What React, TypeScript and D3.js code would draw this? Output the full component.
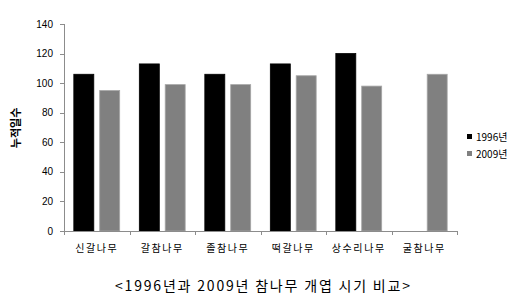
import React from "react";
import * as d3 from "d3";

const categories = ["신갈나무", "갈참나무", "졸참나무", "떡갈나무", "상수리나무", "굴참나무"];
const series1996: (number | null)[] = [106, 113, 106, 113, 120, null];
const series2009: (number | null)[] = [95, 99, 99, 105, 98, 106];
const seriesNames = ["1996년", "2009년"];
const yTicks = [0, 20, 40, 60, 80, 100, 120, 140];
const caption = "<1996년과 2009년 참나무 개엽 시기 비교>";
const yTitle = "누적일수";

export default function App() {
  const W = 520, H = 306;
  const left = 64, right = 457, top = 24, bottom = 231;
  const x = d3.scaleBand<string>().domain(categories).range([left, right]);
  const y = d3.scaleLinear().domain([0, 140]).range([bottom, top]);
  const bw = x.bandwidth();
  const barW = bw * 0.305;
  const gap = bw * 0.09;
  const off = (bw - 2 * barW - gap) / 2;
  const colors = ["#000000", "#808080"];
  const strokes = ["#000000", "#a6a6a6"];
  const axisColor = "#8c8c8c";
  const numFont = "'Liberation Sans', Arial, sans-serif";
  const krFont = "'Noto Sans CJK KR', sans-serif";
  const all = [series1996, series2009];
  return (
    <svg width={W} height={H} style={{ position: "absolute", left: 0, top: 0, background: "#fff" }}>
      {/* y axis */}
      <line x1={left + 0.5} x2={left + 0.5} y1={top} y2={bottom} stroke={axisColor} />
      {yTicks.map((t) => (
        <g key={t}>
          <line x1={left - 4} x2={left} y1={Math.round(y(t)) + 0.5} y2={Math.round(y(t)) + 0.5} stroke={axisColor} />
          <text x={left - 11} y={y(t)} dy="0.35em" textAnchor="end" fontSize={10} fontFamily={numFont} fill="#000">
            {t}
          </text>
        </g>
      ))}
      {/* bars */}
      {all.map((s, si) =>
        s.map((v, i) =>
          v == null ? null : (
            <rect
              key={`${si}-${i}`}
              x={(x(categories[i]) as number) + off + si * (barW + gap)}
              y={y(v)}
              width={barW}
              height={bottom - y(v)}
              fill={colors[si]}
              stroke={strokes[si]}
              strokeWidth={0.8}
            />
          )
        )
      )}
      {/* x axis */}
      <line x1={left} x2={right} y1={bottom + 0.5} y2={bottom + 0.5} stroke={axisColor} />
      {categories.concat([""]).map((c, i) => {
        const xx = Math.round(left + i * bw) + 0.5;
        return <line key={i} x1={xx} x2={xx} y1={bottom} y2={bottom + 4} stroke={axisColor} />;
      })}
      {categories.map((c) => (
        <text
          key={c}
          x={(x(c) as number) + bw / 2}
          y={248}
          dy="0.35em"
          textAnchor="middle"
          fontSize={10}
          letterSpacing={1.6}
          fontFamily={krFont}
          fill="#000"
        >
          {c}
        </text>
      ))}
      {/* y title */}
      <text
        transform={`translate(16,128) rotate(-90)`}
        textAnchor="middle"
        dy="0.35em"
        fontSize={11}
        fontWeight="bold"
        fontFamily={krFont}
        fill="#000"
      >
        {yTitle}
      </text>
      {/* legend */}
      {seriesNames.map((n, i) => (
        <g key={n}>
          <rect x={467} y={134 + i * 17} width={5} height={5} fill={colors[i]} />
          <text x={476} y={137 + i * 17} dy="0.35em" fontSize={10} fontFamily={krFont} fill="#000">
            {n}
          </text>
        </g>
      ))}
      {/* caption */}
      <text
        x={115}
        y={286}
        dy="0.35em"
        fontSize={14}
        textLength={295}
        lengthAdjust="spacing"
        fontFamily={krFont}
        fill="#000"
      >
        {caption}
      </text>
    </svg>
  );
}
